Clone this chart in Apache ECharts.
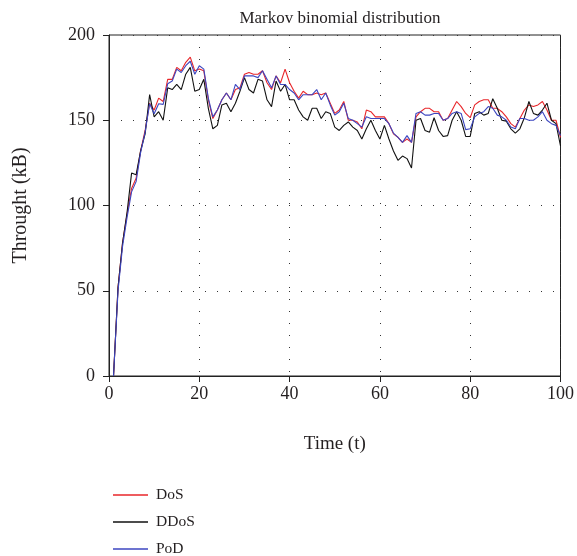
<!DOCTYPE html>
<html>
<head>
<meta charset="utf-8">
<script src="https://cdn.jsdelivr.net/npm/echarts@6/dist/echarts.min.js"></script>
<style>html,body{margin:0;padding:0;background:#fff}#c{width:577px;height:556px}</style>
</head>
<body>
<div id="c"></div>
<script>
const times = [1,2,3,4,5,6,7,8,9,10,11,12,13,14,15,16,17,18,19,20,
21,22,23,24,25,26,27,28,29,30,31,32,33,34,35,36,37,38,39,40,
41,42,43,44,45,46,47,48,49,50,51,52,53,54,55,56,57,58,59,60,
61,62,63,64,65,66,67,68,69,70,71,72,73,74,75,76,77,78,79,80,
81,82,83,84,85,86,87,88,89,90,91,92,93,94,95,96,97,98,99,100];
const dos = [0,52,78,95,110,116,132,144,160,156,163,161,174,174,181,179,184,187,179,180,
179,162,151,156,162,166,162,168,169,177,178,177,177,179,172,168,176,172,180,172,
167,163,167,165,165,166,165,166,160,154,156,161,150,150,149,145,156,155,152,152,
152,148,142,140,137,139,137,152,155,157,157,155,155,150,151,156,161,158,154,151.5,
159,161,162,162,157,157,155,152,148,146,151,156,159,158,159,161,156,150,150,140];
const ddos = [0,52,78,96,119,118,132,142,165,152,155,150,169,168,171,168,177,181,167,168,
174,157,145,147,159,160,155,160,167,175,168,166,174,173,162,158,173,167,171,162,
162,156,152,150,157,157,151,155,154,146,144,147,149,146,144,139,145,150,144,139,
147,139,132,126.5,129,127.5,122,150,151,144,143,151.5,144,140.5,141,150,155,150,140.5,140.5,
154,155,153,154,162.6,157,150,149.5,145,142.5,145,151.5,161,154,153,156,160,150,148,135];
const pod = [0,50,76,93,108,114,131,143,159.7,153.8,159.7,159.3,171.4,173,180,178,182,184.6,177,182,
180,163,152,156,162,166,162,171,168,176,176,176,175,179,174,169,176,171,171,168,
166,162,165,165,165,168,162,166,159,153,155,160,151,150,148,146,152,151,151,151,
151,148,142.5,140,137,141,137,154,155,153,153,154,154,150,151,154,155,154,144.5,145,
152,154,155,158,157,153,152,150,146,145,151,151,150,150,152,155,150,148,147,141];
const xTicks = [0,20,40,60,80,100];
const yTicks = [0,50,100,150,200];

const pair = arr => times.map((t, i) => [t, arr[i]]);
const font = '"Liberation Serif", "DejaVu Serif", serif';
const txt = '#231f20';

const chart = echarts.init(document.getElementById('c'), null, {renderer: 'canvas'});
chart.setOption({
  animation: false,
  backgroundColor: '#fff',
  title: {
    text: 'Markov binomial distribution',
    left: 335, top: 5, textAlign: 'center',
    textStyle: {fontFamily: font, fontSize: 17, fontWeight: 'normal', color: txt}
  },
  grid: {left: 109, right: 16, top: 35, bottom: 180, show: true, borderColor: '#222', borderWidth: 1, containLabel: false},
  legend: {
    orient: 'vertical', left: 108, top: 481, height: 80, itemWidth: 35, itemHeight: 1.4, itemGap: 9, icon: 'rect',
    textStyle: {fontFamily: font, fontSize: 15.5, color: txt, padding: [0,0,0,3], lineHeight: 18},
    data: ['DoS', 'DDoS', 'PoD']
  },
  xAxis: {
    type: 'value', min: xTicks[0], max: xTicks[xTicks.length-1], interval: 20,
    name: 'Time (t)', nameLocation: 'middle', nameGap: 59,
    nameTextStyle: {fontFamily: font, fontSize: 19, color: txt},
    axisLine: {show: true, lineStyle: {color: '#222', width: 1}},
    axisTick: {show: true, length: 6, lineStyle: {color: '#222'}},
    axisLabel: {fontFamily: font, fontSize: 18, color: txt, margin: 9},
    splitLine: {show: true, lineStyle: {type: [1, 11], color: '#333', width: 1}}
  },
  yAxis: {
    type: 'value', min: yTicks[0], max: yTicks[yTicks.length-1], interval: 50,
    name: 'Throught (kB)', nameLocation: 'middle', nameGap: 78,
    nameTextStyle: {fontFamily: font, fontSize: 20, color: txt},
    axisLine: {show: true, lineStyle: {color: '#222', width: 1}},
    axisTick: {show: true, length: 6, lineStyle: {color: '#222'}},
    axisLabel: {fontFamily: font, fontSize: 18, color: txt, margin: 14},
    splitLine: {show: true, lineStyle: {type: [1, 11], color: '#333', width: 1}}
  },
  series: [
    {name: 'DoS', type: 'line', data: pair(dos), symbol: 'none', lineStyle: {color: '#e8262a', width: 1.1}, itemStyle: {color: '#e8262a'}},
    {name: 'DDoS', type: 'line', data: pair(ddos), symbol: 'none', lineStyle: {color: '#111', width: 1.1}, itemStyle: {color: '#111'}},
    {name: 'PoD', type: 'line', data: pair(pod), symbol: 'none', lineStyle: {color: '#3c46c0', width: 1.1}, itemStyle: {color: '#3c46c0'}}
  ]
});
</script>
</body>
</html>
